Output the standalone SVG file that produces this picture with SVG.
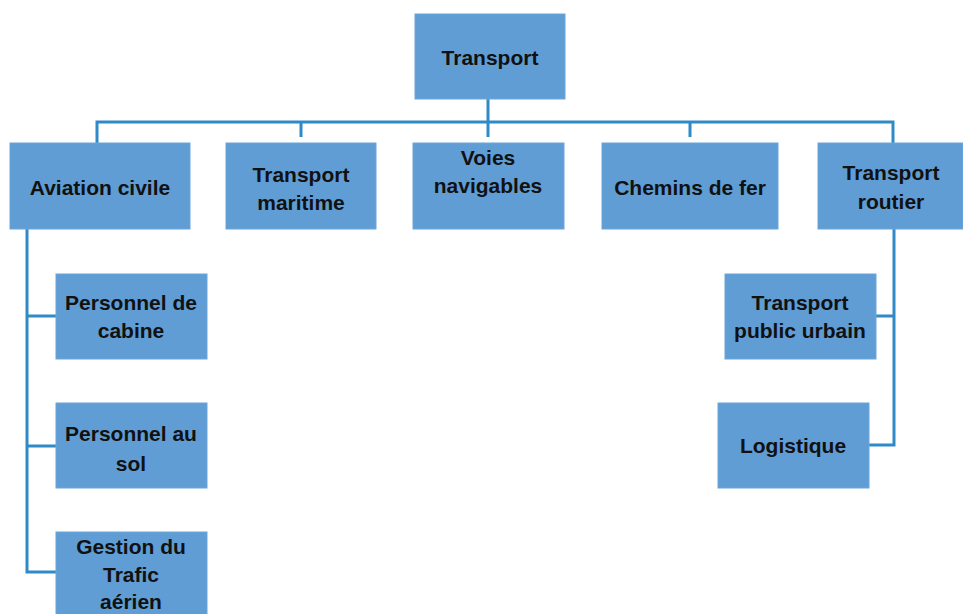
<svg xmlns="http://www.w3.org/2000/svg" width="963" height="614" viewBox="0 0 963 614">
<style>
.box{fill:#5f9dd4;stroke:#6aa6da;stroke-width:1}
.t{font-family:"Liberation Sans",Arial,sans-serif;font-weight:bold;font-size:21px;fill:#111;text-anchor:middle}
.c{fill:none;stroke:#2f8ac6;stroke-width:3}
</style>
<rect width="963" height="614" fill="#ffffff"/>
<g id="connectors">
<path class="c" d="M488 99V137M97 143V122H893V143M301 122V137M690 122V137"/>
<path class="c" d="M27 229V572H56M27 316H56M27 446H56"/>
<path class="c" d="M894 229V445H869M894 316H876"/>
</g>
<g id="n-transport"><rect class="box" x="415" y="14" width="150" height="85"/><text class="t" x="490" y="65">Transport</text></g>
<g id="n-aviation"><rect class="box" x="10" y="143" width="180" height="86"/><text class="t" x="100" y="195">Aviation civile</text></g>
<g id="n-maritime"><rect class="box" x="226" y="143" width="150" height="86"/><text class="t" x="301" y="182">Transport</text><text class="t" x="301" y="210">maritime</text></g>
<g id="n-voies"><rect class="box" x="413" y="143" width="151" height="86"/><text class="t" x="488" y="165">Voies</text><text class="t" x="488" y="193">navigables</text></g>
<g id="n-chemins"><rect class="box" x="602" y="143" width="176" height="86"/><text class="t" x="690" y="195">Chemins de fer</text></g>
<g id="n-routier"><rect class="box" x="818" y="143" width="145" height="86"/><text class="t" x="891" y="180">Transport</text><text class="t" x="891" y="209">routier</text></g>
<g id="n-cabine"><rect class="box" x="56" y="274" width="151" height="85"/><text class="t" x="131" y="310">Personnel de</text><text class="t" x="131" y="338">cabine</text></g>
<g id="n-sol"><rect class="box" x="56" y="403" width="151" height="85"/><text class="t" x="131" y="441">Personnel au</text><text class="t" x="131" y="471">sol</text></g>
<g id="n-gestion"><rect class="box" x="56" y="532" width="151" height="85"/><text class="t" x="131" y="554">Gestion du</text><text class="t" x="131" y="582">Trafic</text><text class="t" x="131" y="609">aérien</text></g>
<g id="n-urbain"><rect class="box" x="725" y="274" width="151" height="85"/><text class="t" x="800" y="310">Transport</text><text class="t" x="800" y="338">public urbain</text></g>
<g id="n-logistique"><rect class="box" x="718" y="403" width="151" height="85"/><text class="t" x="793" y="453">Logistique</text></g>
</svg>
